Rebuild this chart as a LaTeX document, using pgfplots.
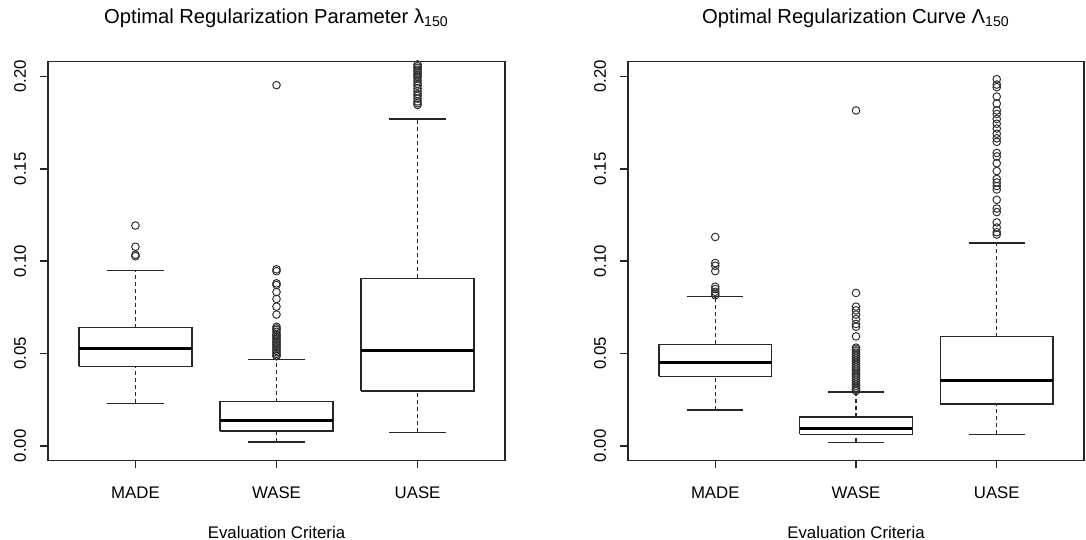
\documentclass[border=0pt]{standalone}
\usepackage{fontspec}
\setmainfont{Liberation Sans}
\usepackage{pgfplots}
\pgfplotsset{compat=1.18}

\pgfplotsset{
  rpanel/.style={
    scale only axis, height=199.5pt,
    xmin=0.38, xmax=3.62, ymin=-0.0079, ymax=0.2081,
    axis line style={black!85, line width=0.7pt},
    xtick={1,2,3}, xticklabels={MADE,WASE,UASE},
    ytick={0,0.05,0.1,0.15,0.2},
    tick align=outside, xtick pos=left, ytick pos=left,
    major tick length=4pt,
    tick style={black!85, line width=0.7pt},
    font=\fontsize{8.4}{10}\selectfont,
    /pgf/number format/assume math mode=true,
    yticklabel style={/pgf/number format/fixed, /pgf/number format/fixed zerofill,
      /pgf/number format/precision=2, rotate=90, anchor=center},
    yticklabel shift=10pt,
    xticklabel style={anchor=center},
    xticklabel shift=12pt,
    every axis title shift=0pt,
    title style={font=\fontsize{10.1}{12}\selectfont, anchor=center, yshift=21.5pt},
    xlabel style={at={(axis description cs:0.5,0)}, anchor=center, yshift=-36pt},
    xlabel={Evaluation Criteria},
    unbounded coords=jump,
  },
  boxl/.style={black!85, line width=0.7pt},
  whisk/.style={black!85, line width=0.7pt, dash pattern=on 2pt off 1.5pt},
  medl/.style={black, line width=1.6pt},
  outl/.style={black!80, only marks, mark=o, mark size=1.9pt, mark options={line width=0.5pt}},
}

\begin{document}
\begin{tikzpicture}
\path[use as bounding box] (0,0) rectangle (543pt,270pt);

% left panel: lambda_150
\begin{axis}[rpanel, at={(24pt,39.75pt)}, anchor=south west, width=228.5pt,
  title={Optimal Regularization Parameter λ\textsubscript{150}}]
% MADE: lw 0.0231, q1 0.0431, med 0.0529, q3 0.0640, uw 0.0948
\addplot[whisk] coordinates {(1,0.0640) (1,0.0948) (1,nan) (1,0.0231) (1,0.0431)};
\addplot[boxl] coordinates {(0.8,0.0948) (1.2,0.0948) (1,nan) (0.8,0.0231) (1.2,0.0231)};
\addplot[boxl] coordinates {(0.6,0.0431) (1.4,0.0431) (1.4,0.0640) (0.6,0.0640) (0.6,0.0431)};
\addplot[medl] coordinates {(0.6,0.0529) (1.4,0.0529)};
\addplot[outl] coordinates {(1,0.1193) (1,0.1078) (1,0.1035) (1,0.1027)};
% WASE: lw 0.0021, q1 0.0081, med 0.0137, q3 0.0239, uw 0.0468
\addplot[whisk] coordinates {(2,0.0239) (2,0.0468) (2,nan) (2,0.0021) (2,0.0081)};
\addplot[boxl] coordinates {(1.8,0.0468) (2.2,0.0468) (2,nan) (1.8,0.0021) (2.2,0.0021)};
\addplot[boxl] coordinates {(1.6,0.0081) (2.4,0.0081) (2.4,0.0239) (1.6,0.0239) (1.6,0.0081)};
\addplot[medl] coordinates {(1.6,0.0137) (2.4,0.0137)};
\addplot[outl] coordinates {(2,0.1953) (2,0.0956) (2,0.0946) (2,0.0880) (2,0.0871)
  (2,0.0833) (2,0.0796) (2,0.0754) (2,0.0711) (2,0.0645) (2,0.0636) (2,0.0628)
  (2,0.0618) (2,0.0605) (2,0.0598) (2,0.0590) (2,0.0582) (2,0.0575) (2,0.0566)
  (2,0.0558) (2,0.0550) (2,0.0541) (2,0.0533) (2,0.0524) (2,0.0515) (2,0.0507)
  (2,0.0498) (2,0.0490) (2,0.0485)};
% UASE: lw 0.0073, q1 0.0297, med 0.0516, q3 0.0907, uw 0.1770
\addplot[whisk] coordinates {(3,0.0907) (3,0.1770) (3,nan) (3,0.0073) (3,0.0297)};
\addplot[boxl] coordinates {(2.8,0.1770) (3.2,0.1770) (3,nan) (2.8,0.0073) (3.2,0.0073)};
\addplot[boxl] coordinates {(2.6,0.0297) (3.4,0.0297) (3.4,0.0907) (2.6,0.0907) (2.6,0.0297)};
\addplot[medl] coordinates {(2.6,0.0516) (3.4,0.0516)};
\addplot[outl] coordinates {(3,0.2065) (3,0.2056) (3,0.2047) (3,0.2037) (3,0.2028)
  (3,0.2018) (3,0.2009) (3,0.2000) (3,0.1990) (3,0.1975) (3,0.1960) (3,0.1950)
  (3,0.1935) (3,0.1920) (3,0.1905) (3,0.1895) (3,0.1880) (3,0.1865) (3,0.1855)
  (3,0.1846)};
\end{axis}

% right panel: Lambda_150
\begin{axis}[rpanel, at={(314pt,39.75pt)}, anchor=south west, width=228pt,
  title={Optimal Regularization Curve Λ\textsubscript{150}}]
% MADE: lw 0.0194, q1 0.0376, med 0.0453, q3 0.0549, uw 0.0809
\addplot[whisk] coordinates {(1,0.0549) (1,0.0809) (1,nan) (1,0.0194) (1,0.0376)};
\addplot[boxl] coordinates {(0.8,0.0809) (1.2,0.0809) (1,nan) (0.8,0.0194) (1.2,0.0194)};
\addplot[boxl] coordinates {(0.6,0.0376) (1.4,0.0376) (1.4,0.0549) (0.6,0.0549) (0.6,0.0376)};
\addplot[medl] coordinates {(0.6,0.0453) (1.4,0.0453)};
\addplot[outl] coordinates {(1,0.1131) (1,0.0990) (1,0.0975) (1,0.0946) (1,0.0862)
  (1,0.0849) (1,0.0834) (1,0.0824) (1,0.0815)};
% WASE: lw 0.0019, q1 0.0062, med 0.0096, q3 0.0156, uw 0.0292
\addplot[whisk] coordinates {(2,0.0156) (2,0.0292) (2,nan) (2,0.0019) (2,0.0062)};
\addplot[boxl] coordinates {(1.8,0.0292) (2.2,0.0292) (2,nan) (1.8,0.0019) (2.2,0.0019)};
\addplot[boxl] coordinates {(1.6,0.0062) (2.4,0.0062) (2.4,0.0156) (1.6,0.0156) (1.6,0.0062)};
\addplot[medl] coordinates {(1.6,0.0096) (2.4,0.0096)};
\addplot[outl] coordinates {(2,0.1816) (2,0.0828) (2,0.0754) (2,0.0734) (2,0.0711)
  (2,0.0687) (2,0.0660) (2,0.0645) (2,0.0593) (2,0.0532) (2,0.0524) (2,0.0515)
  (2,0.0505) (2,0.0495) (2,0.0485) (2,0.0475) (2,0.0465) (2,0.0455) (2,0.0445)
  (2,0.0435) (2,0.0425) (2,0.0415) (2,0.0405) (2,0.0395) (2,0.0385) (2,0.0375)
  (2,0.0365) (2,0.0355) (2,0.0345) (2,0.0335) (2,0.0325) (2,0.0315) (2,0.0305)
  (2,0.0297)};
% UASE: lw 0.0062, q1 0.0226, med 0.0354, q3 0.0591, uw 0.1099
\addplot[whisk] coordinates {(3,0.0591) (3,0.1099) (3,nan) (3,0.0062) (3,0.0226)};
\addplot[boxl] coordinates {(2.8,0.1099) (3.2,0.1099) (3,nan) (2.8,0.0062) (3.2,0.0062)};
\addplot[boxl] coordinates {(2.6,0.0226) (3.4,0.0226) (3.4,0.0591) (2.6,0.0591) (2.6,0.0226)};
\addplot[medl] coordinates {(2.6,0.0354) (3.4,0.0354)};
\addplot[outl] coordinates {(3,0.1985) (3,0.1956) (3,0.1942) (3,0.1891) (3,0.1853)
  (3,0.1816) (3,0.1797) (3,0.1770) (3,0.1744) (3,0.1718) (3,0.1690) (3,0.1665)
  (3,0.1646) (3,0.1586) (3,0.1567) (3,0.1530) (3,0.1488) (3,0.1445) (3,0.1426)
  (3,0.1407) (3,0.1388) (3,0.1332) (3,0.1285) (3,0.1266) (3,0.1210) (3,0.1182)
  (3,0.1157) (3,0.1144)};
\end{axis}
\end{tikzpicture}
\end{document}
